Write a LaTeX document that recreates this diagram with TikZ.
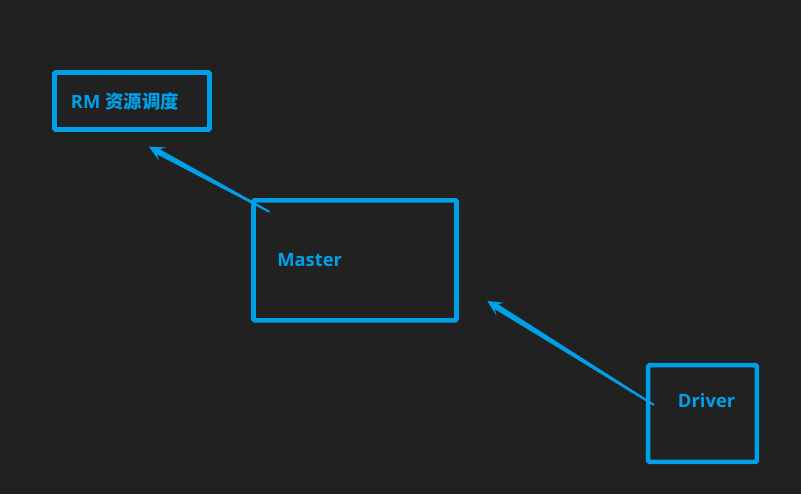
\documentclass[tikz,border=0pt]{standalone}
\usepackage{fontspec}
\setmainfont{Open Sans}
\newfontfamily\cjk{Noto Sans CJK SC}
\usetikzlibrary{calc}
\definecolor{bgcol}{RGB}{33,33,33}
\definecolor{mblue}{RGB}{0,160,233}
\newcommand\taperarrow[2]{%
  \coordinate (#1n) at ($(#2)!8pt!(#1)$);
  \coordinate (#1b) at ($(#2)!11.5pt!(#1)$);
  \fill[mblue] ($(#1)!0.75pt!90:(#2)$) -- ($(#1n)!2.2pt!90:(#2)$) -- ($(#1b)!5.6pt!90:(#2)$)
    -- (#2) -- ($(#1b)!5.6pt!-90:(#2)$) -- ($(#1n)!2.2pt!-90:(#2)$) -- ($(#1)!0.75pt!-90:(#2)$) -- cycle;
}
\begin{document}
\begin{tikzpicture}[x=0.75pt,y=-0.75pt,
  box/.style={draw=mblue,line width=3.4pt,rounded corners=0.8pt,inner sep=0pt},
  lbl/.style={anchor=base west,inner sep=0pt,text=mblue,font=\bfseries\fontsize{13.8pt}{16pt}\selectfont}]
\fill[bgcol] (0,0) rectangle (801,494);
\useasboundingbox (0,0) rectangle (801,494);
\node[box,minimum width=116.25pt,minimum height=42.75pt] (rm) at (132,101) {};
\node[box,minimum width=152.25pt,minimum height=90pt] (master) at (355,260.3) {};
\node[box,minimum width=81.45pt,minimum height=72.45pt] (driver) at (702.5,413.5) {};
\node[lbl] (rmlbl) at (70.7,108) {RM {\cjk 资源调度}};
\node[lbl] (masterlbl) at (277,266.7) {Master};
\node[lbl] (driverlbl) at (677.7,407.3) {Driver};
\coordinate (ma) at (269.3,211.7);
\coordinate (rmtip) at (149,146.7);
\coordinate (dr) at (654,405);
\coordinate (mtip) at (487.3,301);
\taperarrow{ma}{rmtip}
\taperarrow{dr}{mtip}
\end{tikzpicture}
\end{document}
